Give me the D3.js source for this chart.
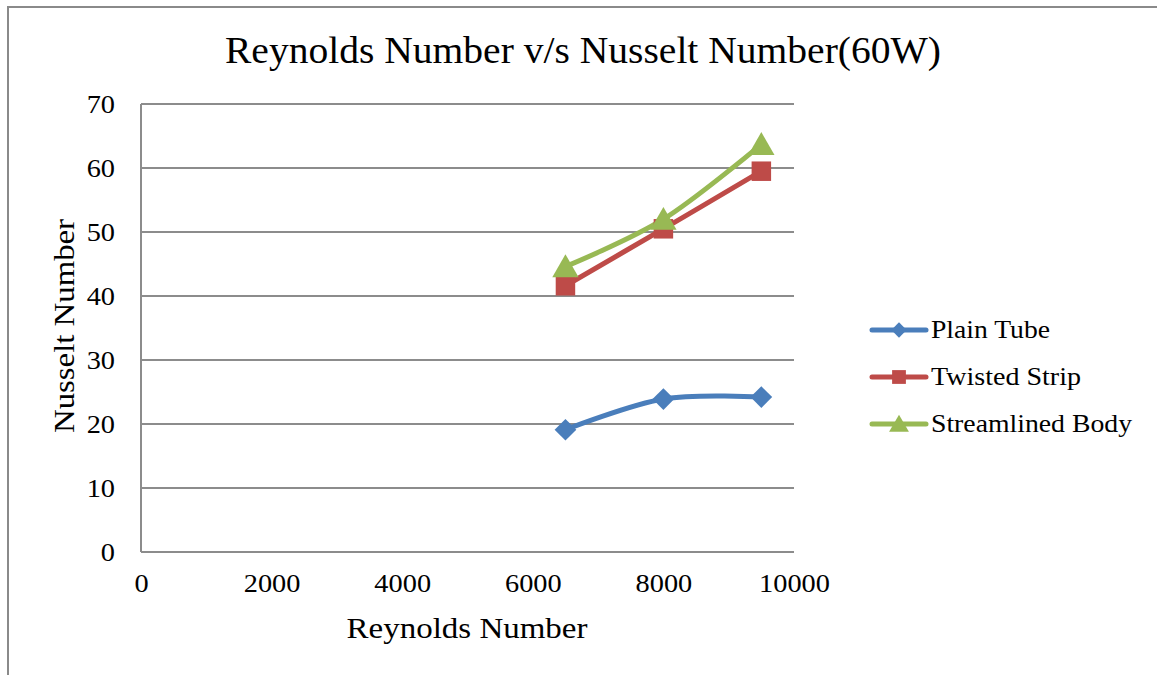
<!DOCTYPE html>
<html>
<head>
<meta charset="utf-8">
<script src="https://cdnjs.cloudflare.com/ajax/libs/d3/7.8.5/d3.min.js"></script>
<style>
  html, body { margin: 0; padding: 0; background: #fff; }
  svg { display: block; }
  text { font-family: "Liberation Serif", "DejaVu Serif", serif; fill: #000; }
</style>
</head>
<body>
<svg id="chart" width="1157" height="675"></svg>
<script>
// Reynolds numbers tested and the measured Nusselt numbers per configuration
const reynolds = [6500, 8000, 9500];
const plainTube = [19.1, 23.9, 24.2];
const twistedStrip = [41.6, 50.5, 59.5];
const streamlinedBody = [44.6, 52.0, 63.7];

const seriesNames = ["Plain Tube", "Twisted Strip", "Streamlined Body"];
const seriesColors = ["#4A7EBB", "#BE4B48", "#98B954"];
const seriesSymbols = [d3.symbolDiamond2, d3.symbolSquare, d3.symbolTriangle];

const xTicks = [0, 2000, 4000, 6000, 8000, 10000];
const yTicks = [0, 10, 20, 30, 40, 50, 60, 70];

const titleText = "Reynolds Number v/s Nusselt Number(60W)";
const xTitle = "Reynolds Number";
const yTitle = "Nusselt Number";

const series = [plainTube, twistedStrip, streamlinedBody].map((vals, i) => ({
  name: seriesNames[i],
  color: seriesColors[i],
  symbol: seriesSymbols[i],
  points: vals.map((v, j) => ({ x: reynolds[j], y: v }))
}));

const svg = d3.select("#chart");

// widen the serif glyphs a little to get a Cambria-like set width
function widen(sel, perChar) {
  sel.each(function () {
    const t = d3.select(this);
    const w = this.getComputedTextLength() * perChar;
    t.attr("textLength", w).attr("lengthAdjust", "spacingAndGlyphs");
  });
}

// outer chart frame
svg.append("rect")
  .attr("x", 8).attr("y", 7)
  .attr("width", 1160).attr("height", 680)
  .attr("fill", "none").attr("stroke", "#8a8a8a").attr("stroke-width", 2);

const plot = { left: 141, right: 794, top: 104, bottom: 552 };

const x = d3.scaleLinear().domain([0, 10000]).range([plot.left, plot.right]);
const y = d3.scaleLinear().domain([0, 70]).range([plot.bottom, plot.top]);

// horizontal gridlines
svg.append("g")
  .selectAll("line")
  .data(yTicks)
  .join("line")
  .attr("x1", plot.left).attr("x2", plot.right)
  .attr("y1", d => y(d)).attr("y2", d => y(d))
  .attr("stroke", "#8c8c8c").attr("stroke-width", 2);

// vertical axis line
svg.append("line")
  .attr("x1", plot.left).attr("x2", plot.left)
  .attr("y1", plot.top).attr("y2", plot.bottom)
  .attr("stroke", "#8c8c8c").attr("stroke-width", 2);

// y axis tick labels
const yAxis = d3.axisLeft(y).tickValues(yTicks).tickSize(0).tickPadding(26).tickFormat(d3.format("d"));
const gy = svg.append("g").attr("transform", `translate(${plot.left},0)`).call(yAxis);
gy.select(".domain").remove();
gy.selectAll("text").style("font-family", '"Liberation Serif", serif').style("font-size", "26px").attr("fill", "#000");
widen(gy.selectAll("text"), 1.09);

// x axis tick labels
const xAxis = d3.axisBottom(x).tickValues(xTicks).tickSize(0).tickPadding(22).tickFormat(d3.format("d"));
const gx = svg.append("g").attr("transform", `translate(0,${plot.bottom})`).call(xAxis);
gx.select(".domain").remove();
gx.selectAll("text").style("font-family", '"Liberation Serif", serif').style("font-size", "26px").attr("fill", "#000");
widen(gx.selectAll("text"), 1.09);

// titles
svg.append("text")
  .attr("x", 583).attr("y", 63)
  .attr("text-anchor", "middle")
  .style("font-size", "37px")
  .text(titleText)
  .attr("textLength", 716).attr("lengthAdjust", "spacingAndGlyphs");

svg.append("text")
  .attr("x", 467).attr("y", 638)
  .attr("text-anchor", "middle")
  .style("font-size", "30px")
  .text(xTitle)
  .attr("textLength", 241).attr("lengthAdjust", "spacingAndGlyphs");

svg.append("text")
  .attr("transform", `translate(74,326) rotate(-90)`)
  .attr("text-anchor", "middle")
  .style("font-size", "30px")
  .text(yTitle)
  .attr("textLength", 214).attr("lengthAdjust", "spacingAndGlyphs");

// smoothed series lines
const line = d3.line()
  .x(d => x(d.x))
  .y(d => y(d.y))
  .curve(d3.curveCardinal.tension(0));

const gSeries = svg.append("g");
series.forEach(s => {
  gSeries.append("path")
    .datum(s.points)
    .attr("d", line)
    .attr("fill", "none")
    .attr("stroke", s.color)
    .attr("stroke-width", 5)
    .attr("stroke-linejoin", "round")
    .attr("stroke-linecap", "round");
});

// markers drawn above all lines; triangles are centred on their bounding box
const markerSizes = [300, 380, 300];
const markerShift = [0, 0, 3];
series.forEach((s, i) => {
  gSeries.append("g")
    .selectAll("path")
    .data(s.points)
    .join("path")
    .attr("transform", d => `translate(${x(d.x)},${y(d.y) + markerShift[i]})`)
    .attr("d", d3.symbol().type(s.symbol).size(markerSizes[i]))
    .attr("fill", s.color);
});

// legend
const legendWidths = [119, 150, 201];
const legend = svg.append("g").attr("transform", "translate(870,330)");
const legendSizes = [150, 190, 170];
series.forEach((s, i) => {
  const row = legend.append("g").attr("transform", `translate(0,${i * 47})`);
  row.append("line")
    .attr("x1", 2).attr("x2", 56)
    .attr("y1", 0).attr("y2", 0)
    .attr("stroke", s.color).attr("stroke-width", 5)
    .attr("stroke-linecap", "round");
  row.append("path")
    .attr("transform", `translate(29,${markerShift[i] * 0.7})`)
    .attr("d", d3.symbol().type(s.symbol).size(legendSizes[i]))
    .attr("fill", s.color);
  row.append("text")
    .attr("x", 61).attr("y", 8)
    .style("font-size", "25px")
    .text(s.name)
    .attr("textLength", legendWidths[i]).attr("lengthAdjust", "spacingAndGlyphs");
});
</script>
</body>
</html>
